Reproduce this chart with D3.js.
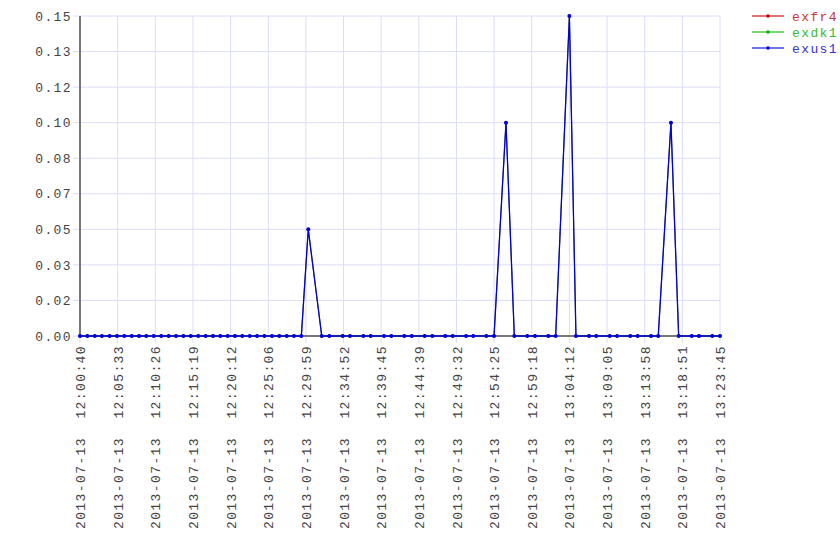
<!DOCTYPE html>
<html>
<head>
<meta charset="utf-8">
<script src="https://cdn.jsdelivr.net/npm/d3@7"></script>
<style>
  body { margin: 0; background: #fff; }
  text { font-family: "Liberation Mono", monospace; font-size: 13px; letter-spacing: 1.4px; white-space: pre; }
</style>
</head>
<body>
<div class="chart"></div>
<script>
var svgWidth = 840;
var svgHeight = 560;

var margin = { top: 16, right: 120, bottom: 224, left: 80 };
var width = svgWidth - margin.left - margin.right;
var height = svgHeight - margin.top - margin.bottom;

// sample times (2013-07-13)
var times = [
  "12:00:40", "12:01:37", "12:02:35", "12:03:31", "12:04:31", "12:05:28",
  "12:06:25", "12:07:23", "12:08:20", "12:09:16", "12:10:14", "12:11:13",
  "12:12:11", "12:13:08", "12:14:05", "12:15:02", "12:16:01", "12:16:59",
  "12:17:56", "12:18:53", "12:19:50", "12:20:47", "12:21:44", "12:22:42",
  "12:23:39", "12:24:36", "12:25:36", "12:26:32", "12:27:30", "12:28:27",
  "12:29:24", "12:30:18", "12:32:03", "12:33:02", "12:34:46", "12:35:43",
  "12:37:27", "12:38:24", "12:40:08", "12:41:05", "12:42:46", "12:43:44",
  "12:45:25", "12:46:24", "12:48:05", "12:49:03", "12:50:47", "12:51:43",
  "12:53:25", "12:54:25", "12:55:58", "12:57:03", "12:58:44", "12:59:44",
  "13:01:28", "13:02:25", "13:04:12", "13:05:03", "13:06:45", "13:07:41",
  "13:09:26", "13:10:23", "13:12:06", "13:13:04", "13:14:48", "13:15:44",
  "13:17:23", "13:18:23", "13:20:05", "13:21:01", "13:22:45", "13:23:45"
];

var exfr4 = [
  0, 0, 0, 0, 0, 0, 0, 0, 0, 0, 0, 0,
  0, 0, 0, 0, 0, 0, 0, 0, 0, 0, 0, 0,
  0, 0, 0, 0, 0, 0, 0, 0.05, 0, 0, 0, 0,
  0, 0, 0, 0, 0, 0, 0, 0, 0, 0, 0, 0,
  0, 0, 0.10, 0, 0, 0, 0, 0, 0.15, 0, 0, 0,
  0, 0, 0, 0, 0, 0, 0.10, 0, 0, 0, 0, 0
];
var exdk1 = [
  0, 0, 0, 0, 0, 0, 0, 0, 0, 0, 0, 0,
  0, 0, 0, 0, 0, 0, 0, 0, 0, 0, 0, 0,
  0, 0, 0, 0, 0, 0, 0, 0.05, 0, 0, 0, 0,
  0, 0, 0, 0, 0, 0, 0, 0, 0, 0, 0, 0,
  0, 0, 0.10, 0, 0, 0, 0, 0, 0.15, 0, 0, 0,
  0, 0, 0, 0, 0, 0, 0.10, 0, 0, 0, 0, 0
];
var exus1 = [
  0, 0, 0, 0, 0, 0, 0, 0, 0, 0, 0, 0,
  0, 0, 0, 0, 0, 0, 0, 0, 0, 0, 0, 0,
  0, 0, 0, 0, 0, 0, 0, 0.05, 0, 0, 0, 0,
  0, 0, 0, 0, 0, 0, 0, 0, 0, 0, 0, 0,
  0, 0, 0.10, 0, 0, 0, 0, 0, 0.15, 0, 0, 0,
  0, 0, 0, 0, 0, 0, 0.10, 0, 0, 0, 0, 0
];

var seriesNames = ["exfr4", "exdk1", "exus1"];
var seriesValues = [exfr4, exdk1, exus1];
var lineColors = ["#cc0000", "#00bb00", "#0000dd"];
var textColors = ["#cc3333", "#33bb33", "#3333cc"];

var yMax = 0.15;
var yTickCount = 10;
var xTickCount = 18;

var parseTime = d3.timeParse("%Y-%m-%d %H:%M:%S");
var dates = times.map(t => parseTime("2013-07-13 " + t));

var svg = d3.select(".chart")
  .append("svg")
  .attr("width", svgWidth)
  .attr("height", svgHeight);

var chartGroup = svg.append("g")
  .attr("transform", `translate(${margin.left}, ${margin.top})`);

var xScale = d3.scaleTime()
  .domain(d3.extent(dates))
  .range([0, width]);

var yScale = d3.scaleLinear()
  .domain([0, yMax])
  .range([height, 0]);

// evenly spaced ticks like the original
var xDomain = xScale.domain();
var xTicks = d3.range(xTickCount).map(i =>
  new Date(+xDomain[0] + i * (xDomain[1] - xDomain[0]) / (xTickCount - 1)));
var yTicks = d3.range(yTickCount).map(i => i * yMax / (yTickCount - 1));

// grid
chartGroup.append("g")
  .selectAll("line")
  .data(yTicks)
  .enter()
  .append("line")
  .attr("x1", -7)
  .attr("x2", width)
  .attr("y1", d => yScale(d))
  .attr("y2", d => yScale(d))
  .attr("stroke", "#dcdcfc")
  .attr("stroke-width", 1);

chartGroup.append("g")
  .selectAll("line")
  .data(xTicks)
  .enter()
  .append("line")
  .attr("x1", d => xScale(d))
  .attr("x2", d => xScale(d))
  .attr("y1", 0)
  .attr("y2", height + 7)
  .attr("stroke", "#dcdcfc")
  .attr("stroke-width", 1);

// axes
var leftAxis = d3.axisLeft(yScale)
  .tickValues(yTicks)
  .tickFormat(d3.format(".2f"))
  .tickSize(0)
  .tickPadding(8);

var bottomAxis = d3.axisBottom(xScale)
  .tickValues(xTicks)
  .tickFormat(d3.timeFormat("%Y-%m-%d  %H:%M:%S"))
  .tickSize(0);

var yAxis = chartGroup.append("g").call(leftAxis);
yAxis.select(".domain").remove();
yAxis.selectAll("text").attr("fill", "#444");

var xAxis = chartGroup.append("g")
  .attr("transform", `translate(0, ${height})`)
  .call(bottomAxis);
xAxis.select(".domain").remove();
xAxis.selectAll("text")
  .attr("fill", "#444")
  .attr("transform", "rotate(-90)")
  .attr("text-anchor", "end")
  .attr("x", -9)
  .attr("y", 0)
  .attr("dy", "0.35em");
yAxis.attr("font-family", null).attr("font-size", null);
xAxis.attr("font-family", null).attr("font-size", null);

// axis lines
chartGroup.append("line")
  .attr("x1", 0).attr("x2", width)
  .attr("y1", height).attr("y2", height)
  .attr("stroke", "#777").attr("stroke-width", 2);
chartGroup.append("line")
  .attr("x1", 0).attr("x2", 0)
  .attr("y1", 0).attr("y2", height)
  .attr("stroke", "#777").attr("stroke-width", 2);

// series (exus1 drawn last, on top of the others)
var line = d3.line()
  .x((d, i) => xScale(dates[i]))
  .y(d => yScale(d));

seriesValues.forEach(function(values, s) {
  var top = s === seriesValues.length - 1;
  chartGroup.append("path")
    .datum(values)
    .attr("fill", "none")
    .attr("stroke", lineColors[s])
    .attr("stroke-width", top ? 1.3 : 0.6)
    .attr("d", line);

  chartGroup.append("g")
    .selectAll("circle")
    .data(values)
    .enter()
    .append("circle")
    .attr("cx", (d, i) => xScale(dates[i]))
    .attr("cy", d => yScale(d))
    .attr("r", top ? 2 : 1.4)
    .attr("fill", lineColors[s]);
});

// legend
var legend = svg.append("g")
  .attr("transform", "translate(752, 16)");

var legendItems = legend.selectAll("g")
  .data(seriesNames)
  .enter()
  .append("g")
  .attr("transform", (d, i) => `translate(0, ${i * 16})`);

legendItems.append("line")
  .attr("x1", 0).attr("x2", 32)
  .attr("y1", 0).attr("y2", 0)
  .attr("stroke", (d, i) => lineColors[i])
  .attr("stroke-opacity", 0.55)
  .attr("stroke-width", 2);

legendItems.append("circle")
  .attr("cx", 16).attr("cy", 0).attr("r", 1.8)
  .attr("fill", (d, i) => lineColors[i]);

legendItems.append("text")
  .attr("x", 40)
  .attr("dy", "0.35em")
  .attr("fill", (d, i) => textColors[i])
  .text(d => d);
</script>
</body>
</html>
